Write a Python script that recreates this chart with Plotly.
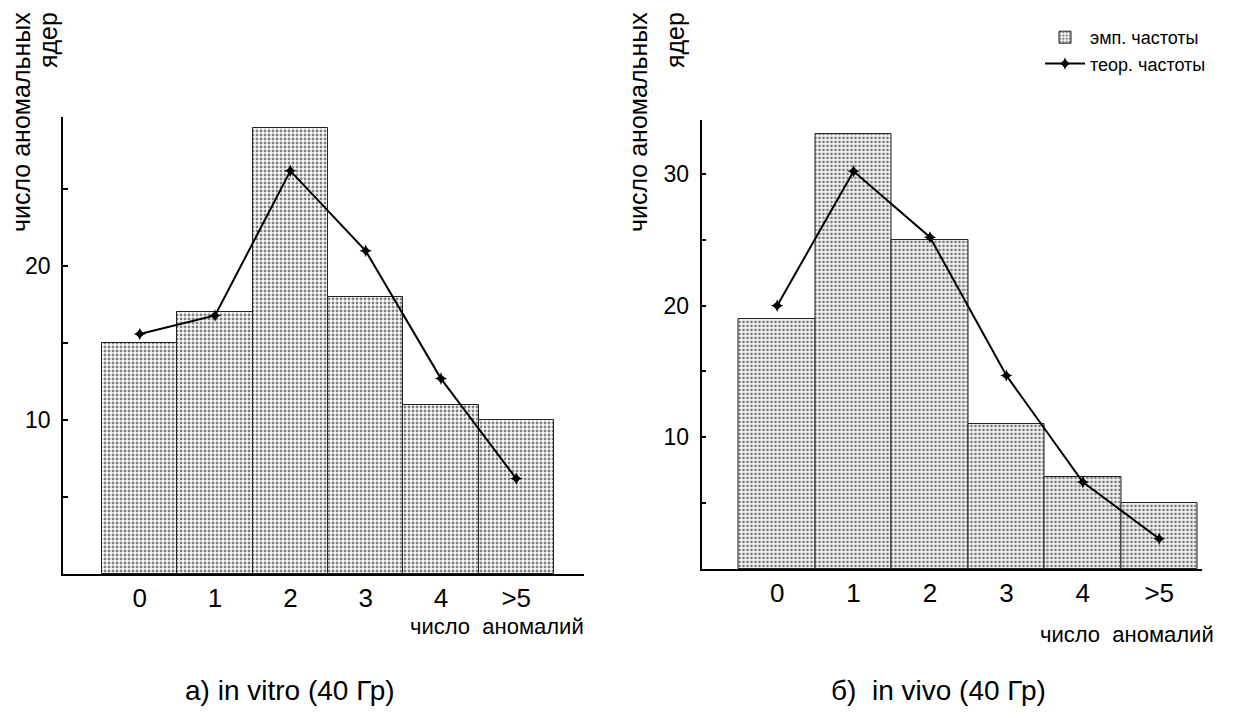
import plotly.graph_objects as go

categories = ["0", "1", "2", "3", "4", ">5"]
positions = [0, 1, 2, 3, 4, 5]

# a) in vitro
vitro_emp = [15, 17, 29, 18, 11, 10]
vitro_theor = [15.6, 16.8, 26.2, 21.0, 12.7, 6.2]

# б) in vivo
vivo_emp = [19, 33, 25, 11, 7, 5]
vivo_theor = [20.0, 30.2, 25.2, 14.7, 6.6, 2.3]

left_yticks = [5, 10, 15, 20, 25]
left_yticktext = ["", "10", "", "20", ""]
right_yticks = [5, 10, 15, 20, 25, 30]
right_yticktext = ["", "10", "", "20", "", "30"]

# page is drawn inside an 8px body margin
OFF = 8
W, H = 1241 - 2 * OFF, 718 - 2 * OFF
FONT = "Liberation Sans, Arial, sans-serif"

pattern = dict(shape=".", fgcolor="#000000", bgcolor="#ffffff", size=4, solidity=0.42)


def px_x(p):
    return (p - OFF) / W


def px_y(p):
    return 1 - (p - OFF) / H


fig = go.Figure()

fig.add_trace(go.Bar(x=positions, y=vitro_emp, width=1, name="эмп. частоты",
                     marker=dict(color="#ffffff", pattern=pattern,
                                 line=dict(color="#222222", width=1)),
                     xaxis="x", yaxis="y", showlegend=True))
fig.add_trace(go.Scatter(x=positions, y=vitro_theor, mode="lines+markers", name="теор. частоты",
                         line=dict(color="#000000", width=2),
                         marker=dict(symbol="star-diamond", size=9, color="#000000"),
                         xaxis="x", yaxis="y", showlegend=True))
fig.add_trace(go.Bar(x=positions, y=vivo_emp, width=1, name="эмп. частоты",
                     marker=dict(color="#ffffff", pattern=pattern,
                                 line=dict(color="#222222", width=1)),
                     xaxis="x2", yaxis="y2", showlegend=False))
fig.add_trace(go.Scatter(x=positions, y=vivo_theor, mode="lines+markers", name="теор. частоты",
                         line=dict(color="#000000", width=2),
                         marker=dict(symbol="star-diamond", size=9, color="#000000"),
                         xaxis="x2", yaxis="y2", showlegend=False))

xcommon = dict(showline=True, linecolor="#000000", linewidth=1.5, showgrid=False,
               zeroline=False, ticks="", tickvals=positions, ticktext=categories,
               tickfont=dict(family=FONT, size=26, color="#000000"))
ycommon = dict(showline=True, linecolor="#000000", linewidth=1.5, showgrid=False,
               zeroline=False, ticks="inside", ticklen=5, tickwidth=1.5, tickcolor="#000000",
               tickfont=dict(family=FONT, size=23, color="#000000"), ticklabelstandoff=6)

fig.update_layout(
    width=W, height=H,
    margin=dict(l=0, r=0, t=0, b=0),
    paper_bgcolor="#ffffff", plot_bgcolor="#ffffff",
    barmode="overlay", bargap=0,
    xaxis=dict(domain=[px_x(63), px_x(584)], range=[-1.02, 5.9], anchor="y", **xcommon),
    yaxis=dict(domain=[px_y(574), px_y(117)], range=[0, 29.7], anchor="x",
               tickvals=left_yticks, ticktext=left_yticktext, **ycommon),
    xaxis2=dict(domain=[px_x(701.5), px_x(1202)], range=[-0.99, 5.56], anchor="y2", **xcommon),
    yaxis2=dict(domain=[px_y(569), px_y(120)], range=[0, 34.1], anchor="x2",
                tickvals=right_yticks, ticktext=right_yticktext, **ycommon),
    legend=dict(x=px_x(1040), y=px_y(19), xanchor="left", yanchor="top",
                bgcolor="rgba(0,0,0,0)", font=dict(family=FONT, size=18, color="#000000"),
                tracegroupgap=0, itemwidth=40),
    showlegend=True,
)

ann_font = dict(family=FONT, size=25, color="#000000")
annotations = [
    dict(text="число аномальных", x=px_x(21), y=px_y(10), textangle=-90),
    dict(text="ядер", x=px_x(48), y=px_y(10), textangle=-90),
    dict(text="число аномальных", x=px_x(638), y=px_y(10), textangle=-90),
    dict(text="ядер", x=px_x(675), y=px_y(10), textangle=-90),
]
for a in annotations:
    fig.add_annotation(xref="paper", yref="paper", xanchor="center", yanchor="top",
                       showarrow=False, font=ann_font, **a)

xt_font = dict(family=FONT, size=22, color="#000000")
fig.add_annotation(text="число  аномалий", xref="paper", yref="paper",
                   x=px_x(586), y=px_y(626), xanchor="right", yanchor="middle",
                   showarrow=False, font=xt_font)
fig.add_annotation(text="число  аномалий", xref="paper", yref="paper",
                   x=px_x(1216), y=px_y(634), xanchor="right", yanchor="middle",
                   showarrow=False, font=xt_font)

cap_font = dict(family=FONT, size=28, color="#000000")
fig.add_annotation(text="а) in vitro (40 Гр)", xref="paper", yref="paper",
                   x=px_x(290), y=px_y(690), xanchor="center", yanchor="middle",
                   showarrow=False, font=cap_font)
fig.add_annotation(text="б)  in vivo (40 Гр)", xref="paper", yref="paper",
                   x=px_x(938), y=px_y(690), xanchor="center", yanchor="middle",
                   showarrow=False, font=cap_font)

fig.write_html("out.html")
